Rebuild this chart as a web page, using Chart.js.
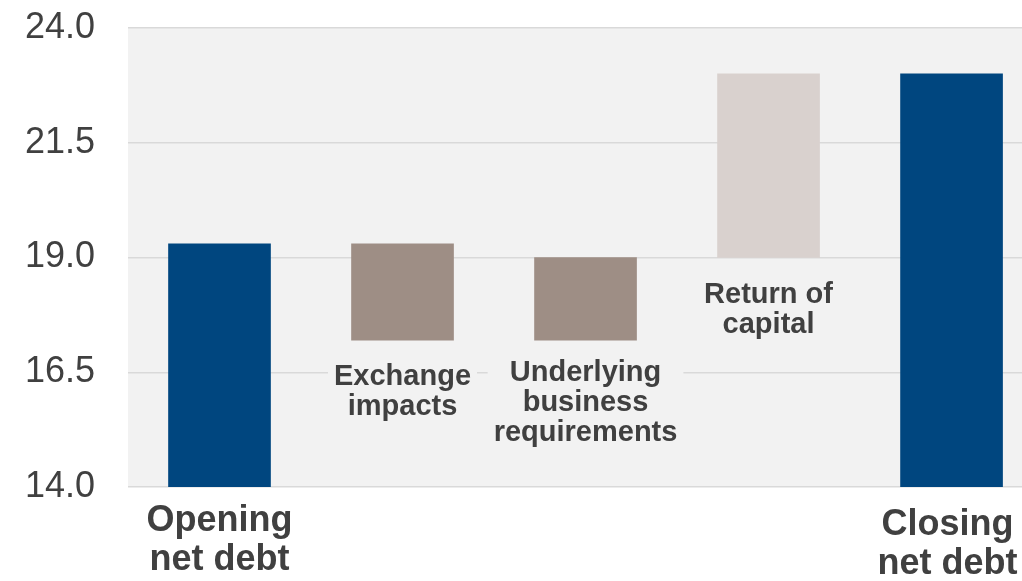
<!DOCTYPE html>
<html>
<head>
<meta charset="utf-8">
<script src="https://cdn.jsdelivr.net/npm/chart.js@4"></script>
<style>
  body { margin: 0; background: #fff; }
  #wrap { width: 1022px; height: 581px; position: relative; }
</style>
</head>
<body>
<div id="wrap"><canvas id="chart"></canvas></div>
<script>
// data
const categories = [
  ['Opening', 'net debt'],
  ['Exchange', 'impacts'],
  ['Underlying', 'business', 'requirements'],
  ['Return of', 'capital'],
  ['Closing', 'net debt']
];
const barStart = [14.0, 17.2, 17.2, 19.0, 14.0];
const barEnd = [19.3, 19.3, 19.0, 23.0, 23.0];
const barColors = ['#00467f', '#9e8e85', '#9e8e85', '#d9d1ce', '#00467f'];
const yTicks = [14.0, 16.5, 19.0, 21.5, 24.0];

const FONT = '"Liberation Sans", Arial, sans-serif';
const TEXT = '#404040';

// plot background
const plotBg = {
  id: 'plotBg',
  beforeDraw(chart) {
    const { ctx, chartArea: a } = chart;
    ctx.save();
    ctx.fillStyle = '#f2f2f2';
    ctx.fillRect(a.left, a.top, a.right - a.left, a.bottom - a.top);
    ctx.restore();
  }
};

// category labels
const barLabels = {
  id: 'barLabels',
  afterDatasetsDraw(chart) {
    const { ctx, chartArea: a } = chart;
    const x = chart.scales.x, y = chart.scales.y;
    ctx.save();
    ctx.textAlign = 'center';
    ctx.textBaseline = 'alphabetic';
    ctx.fillStyle = TEXT;
    categories.forEach((lines, i) => {
      const cx = x.getPixelForValue(i);
      const bottom = y.getPixelForValue(barStart[i]);
      let big = (i === 0 || i === categories.length - 1);
      let size = big ? 36 : 29;
      let lh = big ? 39 : 30;
      let first, dx = 0;
      if (i === 0) first = a.bottom + 44;
      else if (i === categories.length - 1) { first = a.bottom + 48; dx = -4; }
      else if (i === 2) first = bottom + 41;
      else first = bottom + 45;
      ctx.font = 'bold ' + size + 'px ' + FONT;
      if (!big) {
        // box behind text covers gridlines
        let w = Math.max(...lines.map(l => ctx.measureText(l).width)) + 12;
        ctx.fillStyle = '#f2f2f2';
        ctx.fillRect(cx + dx - w / 2, first - size, w, lh * lines.length + 4);
        ctx.fillStyle = TEXT;
      }
      lines.forEach((l, j) => ctx.fillText(l, cx + dx, first + j * lh));
    });
    ctx.restore();
  }
};

new Chart(document.getElementById('chart'), {
  type: 'bar',
  data: {
    datasets: [{
      data: categories.map((c, i) => ({ x: i, y: [barStart[i], barEnd[i]] })),
      backgroundColor: barColors,
      borderWidth: 0,
      barThickness: 102
    }]
  },
  options: {
    responsive: true,
    maintainAspectRatio: false,
    animation: false,
    layout: { padding: { left: 0, right: 0, top: 28, bottom: 94 } },
    plugins: { legend: { display: false }, tooltip: { enabled: false } },
    scales: {
      x: { type: 'linear', min: -0.5, max: 4.385, offset: false, display: false },
      y: {
        min: 14, max: 24,
        afterBuildTicks(scale) { scale.ticks = yTicks.map(v => ({ value: v })); },
        afterFit(scale) {
          scale.width = 128;
          scale.paddingTop = 0;
          scale.paddingBottom = 0;
        },
        border: { display: false },
        grid: { color: '#d9d9d9', lineWidth: 1.5, drawTicks: false },
        ticks: {
          padding: 33,
          color: TEXT,
          font: { family: FONT, size: 36 },
          callback: v => v.toFixed(1)
        }
      }
    }
  },
  plugins: [plotBg, barLabels]
});
</script>
</body>
</html>
